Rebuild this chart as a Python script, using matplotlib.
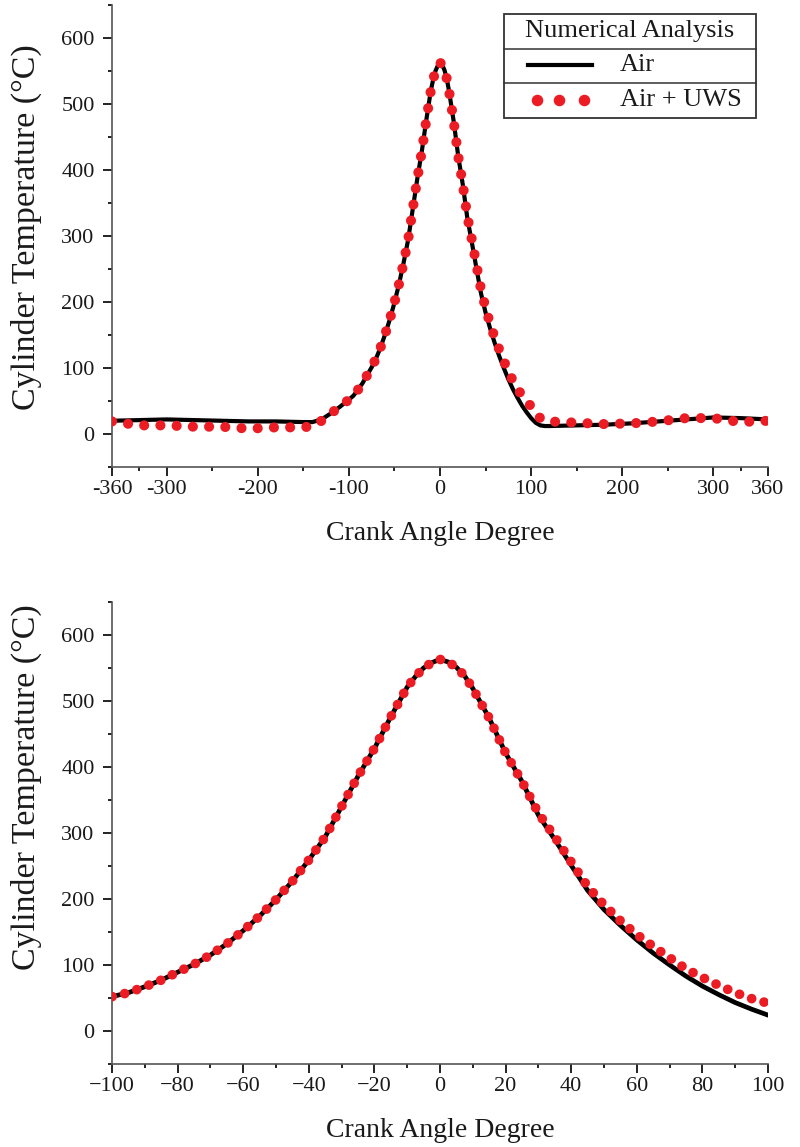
import matplotlib
matplotlib.use("Agg")
import matplotlib.pyplot as plt
from matplotlib.ticker import MultipleLocator, FixedLocator, FuncFormatter
from matplotlib.patches import Rectangle
from matplotlib.lines import Line2D

plt.rcParams['font.family'] = ['Liberation Serif', 'DejaVu Serif']

# ---------------- DATA ----------------
crank_angle = [-360, -330, -300, -270, -240, -210, -180, -150, -140, -130, -120, -110,
               -100, -95, -90, -85, -80, -75, -70, -65, -60, -55, -50, -45, -40, -35,
               -30, -25, -20, -15, -10, -7.5, -5, -2.5, 0, 2.5, 5, 7.5, 10, 15, 20, 25,
               30, 35, 40, 45, 50, 55, 60, 65, 70, 75, 80, 85, 90, 95, 100, 105, 110,
               115, 120, 150, 180, 210, 240, 270, 300, 330, 360]

temp_air = [20, 21, 22, 21, 20, 19, 19, 18, 18, 22, 31, 41,
            52, 58, 67, 77, 89, 101, 115, 132, 152, 174, 199, 227, 259, 294,
            340, 386, 428, 476, 521, 537, 550, 558, 563, 559, 551, 538, 519, 474, 421, 378,
            327, 290, 251, 213, 184, 160, 138, 118, 100, 83, 68, 55, 43, 33, 24, 17, 13,
            12, 12, 13, 14, 16, 19, 22, 25, 24, 22]

temp_uws = [19, 13, 13, 11, 11, 8, 10, 10, 12, 20, 31, 41,
            52, 58, 67, 77, 89, 101, 115, 132, 152, 174, 199, 227, 259, 294,
            340, 386, 428, 476, 521, 537, 550, 558, 563, 559, 551, 538, 519, 474, 421, 378,
            330, 294, 256, 219, 191, 167, 146, 128, 111, 94, 81, 69, 58, 49, 42, 31, 24,
            20, 19, 17, 15, 16, 19, 24, 24, 18, 20]

top_major = [-360, -300, -200, -100, 0, 100, 200, 300, 360]
top_minor = [-330, -250, -150, -50, 50, 150, 250, 330]

RED = '#ec1c24'
SPINE = '#555555'
TXT = '#1a1a1a'

# ---------------- PLOT ----------------
fig = plt.figure(figsize=(8, 11.47), dpi=100)
ax1 = fig.add_axes([0.14, 0.5929, 0.82, 0.4027])
ax2 = fig.add_axes([0.14, 0.0724, 0.82, 0.4028])

ax1.plot(crank_angle, temp_air, color='black', lw=3.0, zorder=2)
ax1.plot(crank_angle, temp_uws, color=RED, lw=7.3, linestyle=(0, (0.001, 1.6)),
         dash_capstyle='round', zorder=3)

ax2.plot(crank_angle, temp_air, color='black', lw=3.4, zorder=2)
ax2.plot(crank_angle, temp_uws, color=RED, lw=7.0, linestyle=(0, (0.001, 1.32)),
         dash_capstyle='round', zorder=3)

ax1.set_xlim(-360, 360)
ax1.xaxis.set_major_locator(FixedLocator(top_major))
ax1.xaxis.set_minor_locator(FixedLocator(top_minor))
ax1.xaxis.set_major_formatter(FuncFormatter(lambda v, p: f"{int(round(v))}"))

ax2.set_xlim(-100, 100)
ax2.xaxis.set_major_locator(MultipleLocator(20))
ax2.xaxis.set_minor_locator(MultipleLocator(10))

for ax in (ax1, ax2):
    ax.set_ylim(-50, 650)
    ax.yaxis.set_major_locator(MultipleLocator(100))
    ax.yaxis.set_minor_locator(MultipleLocator(50))
    ax.spines['top'].set_visible(False)
    ax.spines['right'].set_visible(False)
    for s in ('left', 'bottom'):
        ax.spines[s].set_color(SPINE)
        ax.spines[s].set_linewidth(1.2)
    ax.tick_params(which='major', direction='out', length=6.5, width=1.4,
                   labelsize=16, labelcolor=TXT, color='#222222')
    ax.tick_params(which='minor', direction='out', length=3.2, width=1.4, color='#222222')
    ax.tick_params(axis='y', which='major', pad=6)
    ax.tick_params(axis='x', which='major', pad=3)
    ax.set_xlabel('Crank Angle Degree', fontsize=20, color=TXT)
    ax.set_ylabel('Cylinder Temperature (°C)', fontsize=24.5, color=TXT)
    ax.xaxis.set_label_coords(0.5, -0.118)

ax1.yaxis.set_label_coords(-0.107, 0.52)
ax2.yaxis.set_label_coords(-0.107, 0.60)

# legend drawn as a small table in the top panel (figure pixel coords)
W, H = 800, 1147
def fx(x):
    return x / W
def fy(y):
    return 1 - y / H

fig.add_artist(Rectangle((fx(504), fy(118)), fx(756) - fx(504), fy(14) - fy(118),
                         transform=fig.transFigure, fill=True, facecolor='white',
                         edgecolor='#333333', lw=1.3, zorder=5))
for yy in (49, 83):
    fig.add_artist(Line2D([fx(504), fx(756)], [fy(yy), fy(yy)], transform=fig.transFigure,
                          color='#333333', lw=1.1, zorder=6))
fig.text(fx(630), fy(31), 'Numerical Analysis', ha='center', va='center',
         fontsize=19, color=TXT, zorder=7)
fig.add_artist(Line2D([fx(528), fx(592)], [fy(65), fy(65)], transform=fig.transFigure,
                      color='black', lw=3.0, zorder=7))
fig.text(fx(620), fy(65), 'Air', ha='left', va='center', fontsize=19, color=TXT, zorder=7)
fig.add_artist(Line2D([fx(537), fx(559), fx(584)], [fy(100)] * 3, transform=fig.transFigure,
                      color=RED, lw=0, marker='o', markersize=7.3, zorder=7))
fig.text(fx(620), fy(100), 'Air + UWS', ha='left', va='center', fontsize=19, color=TXT, zorder=7)

fig.savefig('out.png', dpi=100)
